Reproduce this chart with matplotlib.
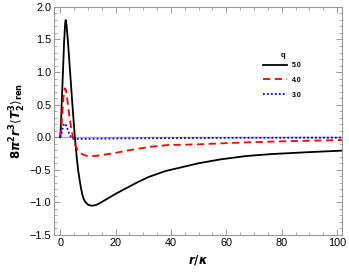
import matplotlib
matplotlib.use("Agg")
import matplotlib.pyplot as plt
from matplotlib.ticker import MultipleLocator

plt.rcParams['font.family'] = ['Liberation Sans', 'DejaVu Sans']
plt.rcParams['mathtext.fontset'] = 'dejavusans'

# values
r_q5 = [0, 0.3, 0.6, 1.0, 1.4, 1.8, 2.0, 2.3, 2.7, 3.0, 3.5, 4.0, 4.5, 5.0, 5.3, 6.0, 6.5, 7.0, 7.5, 8.0,
        8.5, 9.0, 10, 11, 12, 13, 14, 16, 18, 20, 24, 28, 32, 38, 44, 50, 58, 67, 76, 85, 92, 100, 102]
v_q5 = [0, 0.2, 0.57, 1.0, 1.45, 1.75, 1.80, 1.72, 1.52, 1.35, 1.05, 0.75, 0.45, 0.17, 0.0, -0.32, -0.51,
        -0.65, -0.78, -0.88, -0.95, -0.99, -1.035, -1.05, -1.05, -1.04, -1.02, -0.97, -0.92, -0.87, -0.78,
        -0.69, -0.61, -0.52, -0.46, -0.40, -0.34, -0.29, -0.26, -0.24, -0.225, -0.21, -0.206]

r_q4 = [0, 0.4, 0.8, 1.2, 1.6, 1.8, 2.1, 2.5, 3.0, 3.5, 4.0, 4.7, 5.5, 6.5, 7.7, 9, 10, 11.2, 12.5, 15,
        20, 25, 32, 39, 50, 58, 67, 76, 85, 100, 102]
v_q4 = [0, 0.12, 0.38, 0.62, 0.74, 0.75, 0.72, 0.6, 0.43, 0.27, 0.13, -0.02, -0.13, -0.21, -0.255, -0.28,
        -0.288, -0.29, -0.288, -0.275, -0.24, -0.2, -0.15, -0.12, -0.11, -0.095, -0.08, -0.068, -0.058,
        -0.046, -0.045]

r_q3 = [0, 0.5, 1.0, 1.5, 2.0, 2.5, 3.0, 3.5, 4.0, 4.5, 5, 6, 8, 10, 15, 20, 30, 40, 60, 80, 102]
v_q3 = [0, 0.06, 0.16, 0.21, 0.19, 0.14, 0.08, 0.03, 0.0, -0.015, -0.022, -0.026, -0.026, -0.025, -0.022,
        -0.02, -0.017, -0.014, -0.01, -0.008, -0.006]

fig = plt.figure(figsize=(3.49, 2.77), dpi=100)
ax = fig.add_axes([0.155, 0.152, 0.825, 0.823])

ax.axhline(0, color='#aaaaaa', lw=1.0, zorder=1)
ax.plot(r_q5, v_q5, color='black', lw=1.3, label='5.0', zorder=3)
ax.plot(r_q4, v_q4, color='red', lw=1.3, ls=(0, (4, 2.5)), label='4.0', zorder=3)
ax.plot(r_q3, v_q3, color='blue', lw=1.3, ls=(0, (1, 1.2)), label='3.0', zorder=3)

ax.set_xlim(-2.2, 101.8)
ax.set_ylim(-1.5, 2.0)
ax.xaxis.set_major_locator(MultipleLocator(20))
ax.xaxis.set_minor_locator(MultipleLocator(5))
ax.yaxis.set_major_locator(MultipleLocator(0.5))
ax.yaxis.set_minor_locator(MultipleLocator(0.1))
ax.tick_params(which='both', direction='in', top=True, right=True, color='#888888',
               labelsize=7.8, pad=2)
ax.tick_params(which='major', length=4, width=0.6)
ax.tick_params(which='minor', length=2, width=0.5)
for s in ax.spines.values():
    s.set_color('#999999')
    s.set_linewidth(0.8)

ax.set_xlabel(r'$\boldsymbol{r/\kappa}$', fontsize=8.5, labelpad=4)
ax.set_ylabel(r'$\mathbf{8}\boldsymbol{\pi}^{\mathbf{2}}\boldsymbol{r}^{\mathbf{3}}\langle\boldsymbol{T}_{\mathbf{2}}^{\mathbf{3}}\rangle_{\mathbf{ren}}$',
              fontsize=8.5, labelpad=1)

# legend with title placed separately (tighter gap as in the original)
leg = ax.legend(loc='upper left', bbox_to_anchor=(73.3, 1.15), bbox_transform=ax.transData,
                frameon=False, fontsize=5, handlelength=3.5, handletextpad=0.6, labelspacing=1.1,
                borderpad=0, borderaxespad=0)
for t in leg.get_texts():
    t.set_fontweight('bold')
ax.text(80.5, 1.26, 'q', fontsize=5.5, fontweight='bold', ha='center', va='center')

fig.savefig('out.png', dpi=100)
